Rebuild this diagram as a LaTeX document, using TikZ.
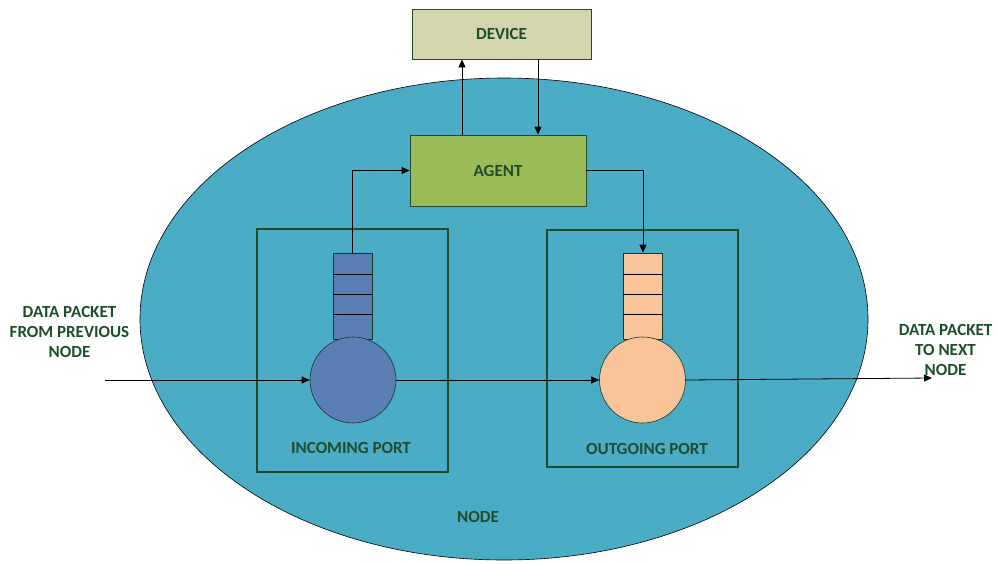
\documentclass[tikz,border=0pt]{standalone}
\usepackage{fontspec}
\setmainfont{Carlito}
\usetikzlibrary{arrows.meta,shapes.geometric,calc}
\definecolor{nodeblue}{HTML}{4BACC6}
\definecolor{devfill}{HTML}{D3D5AD}
\definecolor{agentfill}{HTML}{9BBB59}
\definecolor{darkgreen}{HTML}{1F4D2C}
\definecolor{inblue}{HTML}{587EB3}
\definecolor{outorange}{HTML}{F9C49A}
\tikzset{
  lbl/.style={font=\fontsize{17}{20}\selectfont\bfseries, text=darkgreen, align=center, inner sep=0pt},
  box/.style={draw=darkgreen, line width=0.8pt, inner sep=0pt},
  portbox/.style={draw=darkgreen, line width=2.2pt, inner sep=0pt},
  queue/.style={draw=darkgreen!70!black, line width=0.6pt, minimum width=39pt, minimum height=86pt, inner sep=0pt},
  port/.style={circle, draw=darkgreen!70!black, line width=0.6pt, minimum size=86pt, inner sep=0pt},
  arr/.style={-{Triangle[length=8pt,width=7pt]}, line width=0.8pt},
  ln/.style={line width=0.8pt}
}
\begin{document}
\begin{tikzpicture}[x=1pt,y=-1pt]
\useasboundingbox (0,0) rectangle (998,563);
% the node as a large ellipse
\node[ellipse, draw=black, line width=0.6pt, fill=nodeblue, minimum width=728pt, minimum height=482pt, inner sep=0pt] (nd) at (504,319) {};
\node[lbl] (ndlbl) at (478,517) {NODE};

% device and agent
\node[box, fill=devfill, minimum width=179pt, minimum height=50pt] (device) at (501.5,34) {};
\node[lbl] at (device.center) {DEVICE};
\node[box, fill=agentfill, minimum width=176pt, minimum height=71pt] (agent) at (498,170.5) {};
\node[lbl] at (agent.center) {AGENT};

% port frames
\node[portbox, minimum width=191pt, minimum height=243pt] (inbox) at (352.5,350.5) {};
\node[portbox, minimum width=191pt, minimum height=237pt] (outbox) at (642.5,348.5) {};
\node[lbl] (inlbl) at (351,448) {INCOMING PORT};
\node[lbl] (outlbl) at (647,449) {OUTGOING PORT};

% queues
\node[queue, fill=inblue] (inq) at (352.5,296) {};
\node[queue, fill=outorange] (outq) at (643,296) {};
\foreach \q in {inq,outq}{
  \foreach \d in {22,42,62}{
    \draw[line width=0.7pt] ([yshift=-\d pt]\q.north west) -- ([yshift=-\d pt]\q.north east);
  }
}
% ports
\node[port, fill=inblue] (inp) at (353,380) {};
\node[port, fill=outorange] (outp) at (642.5,380) {};

% side labels
\node[lbl] (prevlbl) at (69.5,332) {DATA PACKET\\FROM PREVIOUS\\NODE};
\node[lbl] (nextlbl) at (945.5,350) {DATA PACKET\\TO NEXT\\NODE};

% connectors
\coordinate (src) at (105,380);
\coordinate (dst) at (932,378);
\coordinate (up) at (462,0);
\coordinate (dn) at (538,0);
\draw[arr] (src) -- (inp.west);
\draw[arr] (inp.east) -- (outp.west);
\draw[arr] (outp.east) -- (dst);
\draw[arr] (inq.north) |- (agent.west);
\draw[arr] (agent.east) -| (outq.north);
\draw[arr] (agent.north -| up) -- (device.south -| up);
\draw[arr] (device.south -| dn) -- (agent.north -| dn);
\end{tikzpicture}
\end{document}
